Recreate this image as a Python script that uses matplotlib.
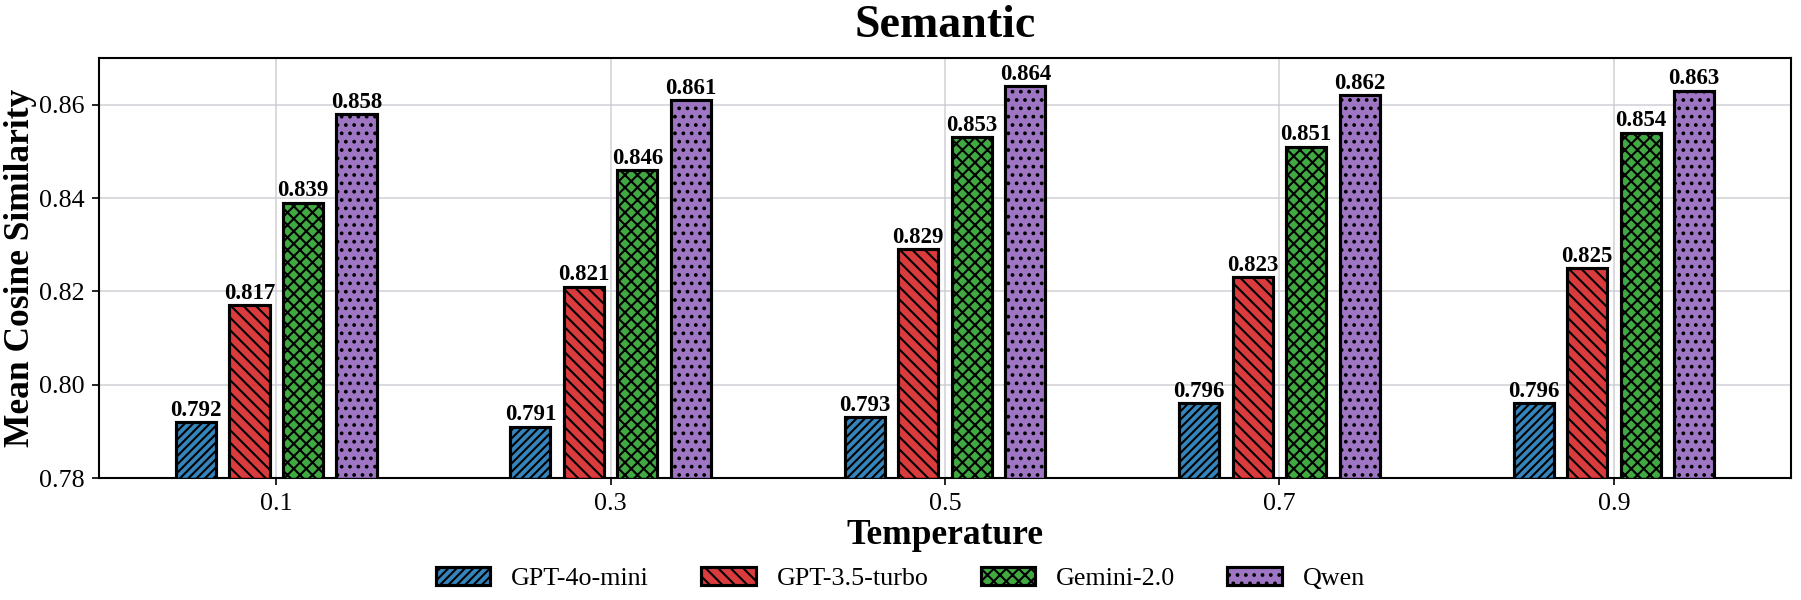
import numpy as np
import matplotlib
matplotlib.use("Agg")
import matplotlib.pyplot as plt
from matplotlib.colors import to_rgba

temperatures = ["0.1", "0.3", "0.5", "0.7", "0.9"]
models = ["GPT-4o-mini", "GPT-3.5-turbo", "Gemini-2.0", "Qwen"]
gpt4o_mini = [0.792, 0.791, 0.793, 0.796, 0.796]
gpt35_turbo = [0.817, 0.821, 0.829, 0.823, 0.825]
gemini = [0.839, 0.846, 0.853, 0.851, 0.854]
qwen = [0.858, 0.861, 0.864, 0.862, 0.863]

series = [gpt4o_mini, gpt35_turbo, gemini, qwen]
colors = ["tab:blue", "tab:red", "tab:green", "tab:purple"]
hatches = ["//////", "\\\\\\\\", "xxxx", "..."]

plt.rcParams["font.family"] = ["Liberation Serif", "DejaVu Serif"]
plt.rcParams["hatch.linewidth"] = 1.0
plt.rcParams["hatch.color"] = "black"

fig = plt.figure(figsize=(1801 / 150, 4), dpi=150)
ax = fig.add_axes([0.055, 0.2033, 0.9395, 0.7])

x = np.arange(len(temperatures))
width = 0.12
pitch = 0.16

for i, (vals, name) in enumerate(zip(series, models)):
    pos = x + (i - 1.5) * pitch
    bars = ax.bar(pos, vals, width, color=to_rgba(colors[i], 0.9), edgecolor="black",
                  linewidth=1.5, hatch=hatches[i], label=name, zorder=3)
    for b, v in zip(bars, vals):
        ax.text(b.get_x() + b.get_width() / 2, v + 0.0003, "%.3f" % v,
                ha="center", va="bottom", fontsize=11, fontweight="bold", zorder=4)

ax.set_ylim(0.78, 0.87)
ax.set_yticks([0.78, 0.80, 0.82, 0.84, 0.86])
ax.set_xticks(x)
ax.set_xticklabels(temperatures)
ax.tick_params(labelsize=12.5)
ax.grid(True, color="#c8c8d0", linewidth=0.8, alpha=0.8, zorder=0)
ax.set_axisbelow(True)
for s in ax.spines.values():
    s.set_linewidth(1.0)

ax.set_xlabel("Temperature", fontsize=17, fontweight="bold", labelpad=2)
ax.set_ylabel("Mean Cosine Similarity", fontsize=17, fontweight="bold", labelpad=1)
ax.set_title("Semantic", fontsize=22, fontweight="bold", pad=10)

fig.legend(loc="lower center", bbox_to_anchor=(0.5, -0.022), ncol=4, frameon=False,
           fontsize=12.5, handlelength=2.1)

fig.savefig("out.png", dpi=150)
